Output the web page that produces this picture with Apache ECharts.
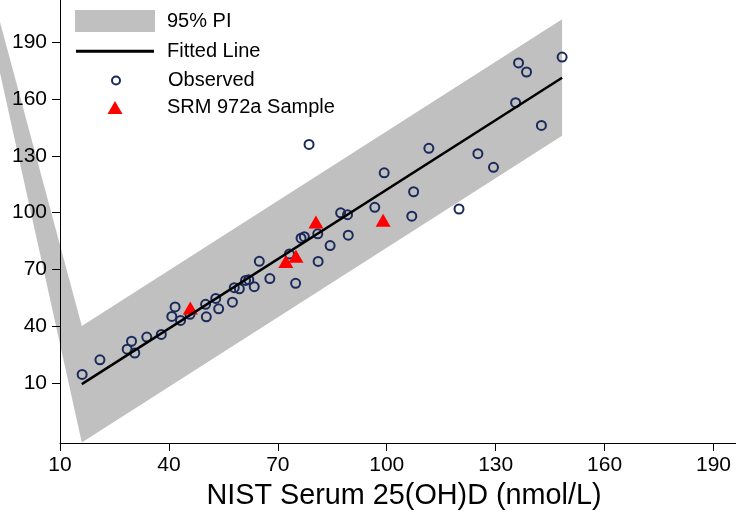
<!DOCTYPE html>
<html>
<head>
<meta charset="utf-8">
<script src="https://cdn.jsdelivr.net/npm/echarts@6/dist/echarts.min.js"></script>
<style>
html,body{margin:0;padding:0;background:#fff}
#chart{width:736px;height:516px}
</style>
</head>
<body>
<div id="chart"></div>
<script>
// observed samples
let obsX = [16.1,21.0,28.5,29.7,30.6,33.9,37.9,41.7,40.8,43.2,45.8,50.1,50.3,52.9,53.7,57.5,58.0,59.4,61.1,62.0,63.5,64.9,67.8,73.2,74.9,76.4,77.3,78.6,81.0,81.1,84.4,87.3,89.2,89.4,96.7,99.3,106.9,107.4,111.6,119.9,125.1,129.4,135.5,136.3,138.5,142.6,148.3];
let obsY = [14.6,22.3,27.9,32.1,25.9,34.3,35.7,50.2,45.2,43.1,46.3,51.6,45.0,54.7,49.2,52.7,60.4,59.8,64.2,64.6,60.9,74.3,65.2,78.2,62.7,86.5,87.3,136.0,88.8,74.2,82.6,99.9,98.9,88.1,102.8,121.0,98.1,111.0,133.9,101.9,131.1,123.9,158.0,179.0,174.2,146.0,182.1];

// SRM 972a
let srmX = [45.9,72.2,75.0,80.5,99.0];
let srmY = [49.7,74.2,76.9,95.1,96.0];

// fitted line ends
let fitX = [16.0,148.3];
let fitY = [9.5,171.2];

// 95% PI band (first row = the stray point the area gets pulled to)
let bandX = [-24,16.0,148.3];
let bandUp = [325,40.1,202.0];
let bandLo = [325,-21.4,140.5];

let xTicks = [10,40,70,100,130,160,190];
let yTicks = [10,40,70,100,130,160,190];

let fontName = 'Liberation Sans, Arial, sans-serif';
let navy = '#1a2a5a';

let myChart = echarts.init(document.getElementById('chart'));

function renderBand(params, api) {
    let pts = [];
    for (let i = 0; i < bandX.length; i++) {
        pts.push(api.coord([bandX[i], bandUp[i]]));
    }
    for (let i = bandX.length - 1; i >= 0; i--) {
        pts.push(api.coord([bandX[i], bandLo[i]]));
    }
    return {
        type: 'polygon',
        shape: {points: pts},
        style: {fill: '#c0c0c0'}
    };
}

function legendBox(name, left, top, w, h, icon, style, pad) {
    return {
        data: [{name: name, icon: icon}],
        orient: 'vertical',
        left: left,
        top: top,
        padding: 0,
        itemWidth: w,
        itemHeight: h,
        selectedMode: false,
        itemStyle: style,
        textStyle: {
            fontFamily: fontName,
            fontSize: 20,
            color: '#000',
            padding: [0, 0, 0, pad]
        }
    };
}

let option = {
    animation: false,
    backgroundColor: '#fff',
    grid: {left: 60, right: 0, top: 0, bottom: 70},
    legend: [
        legendBox('95% PI', 75, 10, 80, 22, 'rect', {color: '#c0c0c0', borderWidth: 0}, 7),
        legendBox('Fitted Line', 76, 41.2, 78, 3, 'rect', {color: '#000', borderWidth: 0}, 8),
        legendBox('Observed', 111, 70.5, 8, 8, 'circle', {color: 'transparent', borderColor: navy, borderWidth: 2}, 43),
        legendBox('SRM 972a Sample', 107.5, 97.5, 15, 13, 'triangle', {color: '#ff0000', borderWidth: 0}, 39.5)
    ],
    xAxis: {
        type: 'value',
        min: 10,
        max: 196.2,
        name: 'NIST Serum 25(OH)D (nmol/L)',
        nameLocation: 'middle',
        nameGap: 39,
        nameTextStyle: {fontFamily: fontName, fontSize: 28.8, color: '#000', padding: [0, 0, 0, 12]},
        splitLine: {show: false},
        axisLine: {onZero: false, lineStyle: {color: '#000', width: 1}},
        axisTick: {length: 8, lineStyle: {color: '#000'}, customValues: xTicks},
        axisLabel: {fontFamily: fontName, fontSize: 21, color: '#000', margin: 12, customValues: xTicks}
    },
    yAxis: {
        type: 'value',
        min: -21.6,
        max: 212.2,
        splitLine: {show: false},
        axisLine: {show: true, onZero: false, lineStyle: {color: '#000', width: 1}},
        axisTick: {show: true, length: 8, lineStyle: {color: '#000'}, customValues: yTicks},
        axisLabel: {fontFamily: fontName, fontSize: 21, color: '#000', margin: 13, customValues: yTicks}
    },
    series: [
        {
            name: '95% PI',
            type: 'custom',
            clip: false,
            silent: true,
            z: -1,
            renderItem: renderBand,
            data: [[bandX[1], bandUp[1]]],
            itemStyle: {color: '#c0c0c0'}
        },
        {
            name: 'Fitted Line',
            type: 'line',
            symbol: 'none',
            color: '#000',
            lineStyle: {color: '#000', width: 2.5},
            data: fitX.map(function (x, i) { return [x, fitY[i]]; })
        },
        {
            name: 'Observed',
            type: 'scatter',
            symbol: 'circle',
            symbolSize: 9,
            itemStyle: {color: 'transparent', borderColor: navy, borderWidth: 2, opacity: 1},
            data: obsX.map(function (x, i) { return [x, obsY[i]]; })
        },
        {
            name: 'SRM 972a Sample',
            type: 'scatter',
            symbol: 'triangle',
            symbolSize: [15, 13],
            itemStyle: {color: '#ff0000', opacity: 1},
            data: srmX.map(function (x, i) { return [x, srmY[i]]; })
        }
    ]
};

myChart.setOption(option);
</script>
</body>
</html>
